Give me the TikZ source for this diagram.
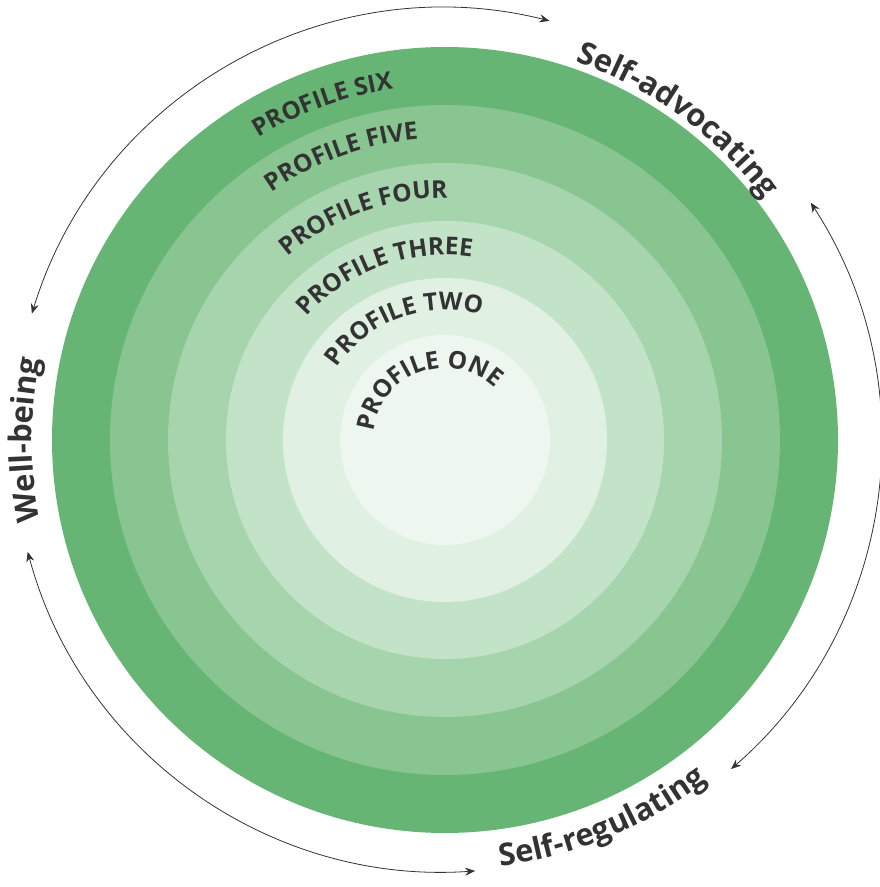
\documentclass[tikz,border=0pt]{standalone}
\usepackage{fontspec}
\setmainfont{Open Sans}
\usetikzlibrary{decorations.text,arrows.meta,calc}
\definecolor{ringA}{HTML}{66B574}
\definecolor{ringB}{HTML}{88C591}
\definecolor{ringC}{HTML}{A6D4AD}
\definecolor{ringD}{HTML}{C3E3C8}
\definecolor{ringE}{HTML}{E0F0E2}
\definecolor{ringF}{HTML}{EEF7EF}
\definecolor{txt}{HTML}{333333}
\tikzset{
  ring/.style={fill=#1,draw=none},
  cycle/.style={draw=txt,line width=0.8pt,{Stealth[length=10pt,width=8pt]}-{Stealth[length=10pt,width=8pt]}},
  bent/.style={decorate,decoration={text along path,text align=center,
    text={|\fontsize{24.5}{24.5}\bfseries\color{txt}|#1}}},
  outer/.style={decorate,decoration={text along path,text align=center,
    text={|\fontsize{31}{31}\bfseries\color{txt}|#1}}}
}
\begin{document}
\begin{tikzpicture}[x=1pt,y=1pt]
\useasboundingbox (0,0) rectangle (880,887);
\coordinate (c) at (445,447);

% rings
\foreach \r/\col in {393/ringA,335/ringB,277/ringC,219/ringD,162/ringE,105/ringF}
  \fill[ring=\col] (c) circle (\r);

% profile labels
\foreach \r/\name in {72/ONE,130/TWO,185/THREE,242/FOUR,302/FIVE,355/SIX}
  \path[bent={PROFILE \name}] ($(c)+(200:\r)$) arc (200:20:\r);

% cycle arrows
\draw[cycle] ($(c)+(163:432)$) arc (163:76:432);
\draw[cycle] ($(c)+(33:436)$) arc (33:-49:436);
\draw[cycle] ($(c)+(-86:432)$) arc (-86:-165:432);

% outer labels
\path[outer={Self-advocating}] ($(c)+(92:400)$) arc (92:16:400);
\path[outer={Self-regulating}] ($(c)+(-100:430)$) arc (-100:-35:430);
\path[outer={Well-being}] ($(c)+(215:413)$) arc (215:145:413);
\end{tikzpicture}
\end{document}
